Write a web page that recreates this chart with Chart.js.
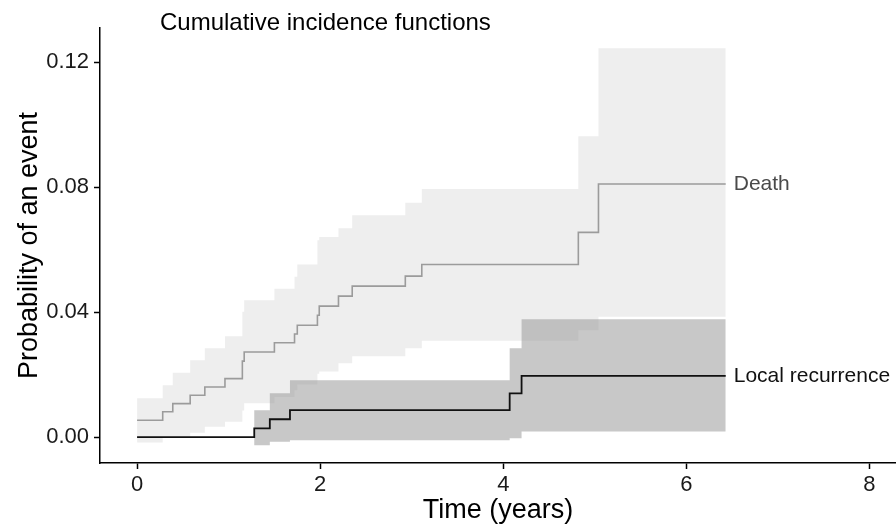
<!DOCTYPE html>
<html>
<head>
<meta charset="utf-8">
<script src="https://cdn.jsdelivr.net/npm/chart.js@4"></script>
<style>
  body { margin: 0; background: #fff; }
  #wrap { width: 896px; height: 527px; position: relative; }
</style>
</head>
<body>
<div id="wrap"><canvas id="cif"></canvas></div>
<script>
// death curve (event times in years, estimate and CI)
const deathTimes = [0, 0.28, 0.39, 0.58, 0.74, 0.96, 1.15, 1.17, 1.50, 1.72, 1.75, 1.97, 1.99, 2.20, 2.35, 2.93, 3.11, 4.82, 5.04, 6.43];
const deathEst   = [0.0054, 0.0081, 0.0107, 0.0134, 0.0160, 0.0187, 0.0243, 0.0272, 0.0302, 0.0330, 0.0358, 0.0390, 0.0419, 0.0451, 0.0483, 0.0515, 0.0552, 0.0655, 0.0810, 0.0810];
const deathUpper = [0.0124, 0.0166, 0.0206, 0.0246, 0.0284, 0.0323, 0.0401, 0.0438, 0.0475, 0.0513, 0.0552, 0.0630, 0.0640, 0.0668, 0.0710, 0.0750, 0.0794, 0.0963, 0.1244, 0.1244];
const deathLower = [-0.0017, 0.0000, 0.0000, 0.0014, 0.0033, 0.0049, 0.0085, 0.0108, 0.0128, 0.0150, 0.0168, 0.0203, 0.0210, 0.0236, 0.0259, 0.0284, 0.0308, 0.0342, 0.0385, 0.0385];

// local recurrence curve
const localTimes = [0, 1.28, 1.45, 1.67, 4.07, 4.20, 6.43];
const localEst   = [0, 0.0028, 0.0057, 0.0086, 0.0140, 0.0196, 0.0196];
const localUpper = [0, 0.0086, 0.0140, 0.0182, 0.0284, 0.0377, 0.0377];
const localLower = [0, -0.0026, -0.0015, -0.0010, -0.0004, 0.0018, 0.0018];

const xTickValues = [0, 2, 4, 6, 8];
const yTickValues = [0, 0.04, 0.08, 0.12];

const FONT = 'Liberation Sans, Arial, Helvetica, sans-serif';

function zip(times, vals) {
    return times.map((t, i) => ({ x: t, y: vals[i] }));
}

// text at the end of each curve + the title
const labelsPlugin = {
    id: 'cifLabels',
    afterDatasetsDraw(chart) {
        const ctx = chart.ctx;
        ctx.save();
        ctx.textBaseline = 'middle';
        ctx.textAlign = 'left';
        chart.data.datasets.forEach((ds, i) => {
            if (!ds.endLabel) return;
            const pts = chart.getDatasetMeta(i).data;
            const last = pts[pts.length - 1];
            ctx.font = '21px ' + FONT;
            ctx.fillStyle = ds.endLabelColor;
            ctx.fillText(ds.endLabel, last.x + 8, last.y);
        });
        ctx.font = '24px ' + FONT;
        ctx.fillStyle = '#000';
        ctx.fillText('Cumulative incidence functions', chart.chartArea.left + 60, 23);
        ctx.restore();
    }
};

const axisCommon = {
    type: 'linear',
    grid: {
        display: true,
        drawOnChartArea: false,
        drawTicks: true,
        tickLength: 6,
        tickColor: '#000',
        tickWidth: 1.5
    },
    border: { display: true, color: '#000', width: 1.5 }
};

// stepped 'before' = horizontal first, then jump at the event time
const STEP = 'before';

new Chart(document.getElementById('cif'), {
    type: 'line',
    data: {
        datasets: [
            {
                label: 'Death',
                data: zip(deathTimes, deathEst),
                stepped: STEP,
                borderColor: '#9b9b9b',
                borderWidth: 1.6,
                pointRadius: 0,
                fill: false,
                order: 1,
                endLabel: 'Death',
                endLabelColor: '#4a4a4a'
            },
            {
                label: 'Local recurrence',
                data: zip(localTimes, localEst),
                stepped: STEP,
                borderColor: '#111',
                borderWidth: 1.8,
                pointRadius: 0,
                fill: false,
                order: 0,
                endLabel: 'Local recurrence',
                endLabelColor: '#111'
            },
            {
                label: 'Death upper',
                data: zip(deathTimes, deathUpper),
                stepped: STEP,
                borderWidth: 0,
                borderColor: 'rgba(0,0,0,0)',
                pointRadius: 0,
                backgroundColor: 'rgb(238,238,238)',
                fill: '+1',
                order: 4
            },
            {
                label: 'Death lower',
                data: zip(deathTimes, deathLower),
                stepped: STEP,
                borderWidth: 0,
                borderColor: 'rgba(0,0,0,0)',
                pointRadius: 0,
                fill: false,
                order: 4
            },
            {
                label: 'Local upper',
                data: zip(localTimes, localUpper),
                stepped: STEP,
                borderWidth: 0,
                borderColor: 'rgba(0,0,0,0)',
                pointRadius: 0,
                backgroundColor: 'rgba(150,150,150,0.52)',
                fill: '+1',
                order: 3
            },
            {
                label: 'Local lower',
                data: zip(localTimes, localLower),
                stepped: STEP,
                borderWidth: 0,
                borderColor: 'rgba(0,0,0,0)',
                pointRadius: 0,
                fill: false,
                order: 3
            }
        ]
    },
    options: {
        responsive: true,
        maintainAspectRatio: false,
        animation: false,
        layout: { padding: { top: 28, right: 0, left: 0, bottom: 0 } },
        plugins: {
            legend: { display: false },
            tooltip: { enabled: false }
        },
        scales: {
            x: {
                ...axisCommon,
                min: -0.405,
                max: 8.29,
                afterBuildTicks: (scale) => {
                    scale.ticks = xTickValues.map(v => ({ value: v }));
                },
                afterFit: (scale) => { scale.height = 64; },
                ticks: {
                    color: '#1a1a1a',
                    font: { family: FONT, size: 22 },
                    padding: 3,
                    maxRotation: 0,
                    callback: (v) => String(v)
                },
                title: {
                    display: true,
                    text: 'Time (years)',
                    color: '#000',
                    font: { family: FONT, size: 27 },
                    padding: { top: 0, bottom: 0 }
                }
            },
            y: {
                ...axisCommon,
                min: -0.0083,
                max: 0.1309,
                afterBuildTicks: (scale) => {
                    scale.ticks = yTickValues.map(v => ({ value: v }));
                },
                afterFit: (scale) => { scale.width = 100; },
                ticks: {
                    color: '#1a1a1a',
                    font: { family: FONT, size: 22 },
                    padding: 5,
                    callback: (v) => v.toFixed(2)
                },
                title: {
                    display: true,
                    text: 'Probability of an event',
                    color: '#000',
                    font: { family: FONT, size: 27 },
                    padding: { top: 13, bottom: 0 }
                }
            }
        }
    },
    plugins: [labelsPlugin]
});
</script>
</body>
</html>
